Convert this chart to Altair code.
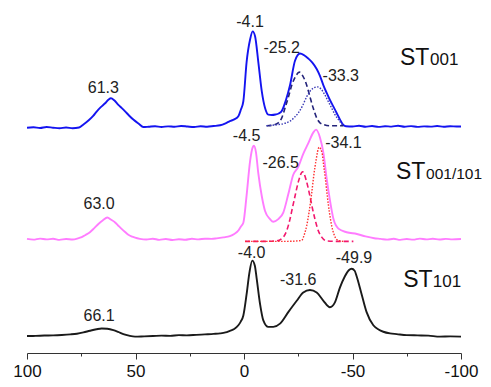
import altair as alt
import pandas as pd

# ---------------- data (ppm, intensity above each trace's own baseline) ----------------
st001_ppm = [100, 97, 94, 91, 88, 85, 82, 79, 76, 74, 71.7, 69.5, 67.9, 66, 64, 62.5, 61.3, 59.8,
             57.9, 56.3, 54.8, 53, 51, 48.5, 46.4, 44, 41, 38, 35, 32, 29, 26, 23, 20, 17, 14, 11,
             8.5, 6.5, 4.5, 2.6, 1.5, 0.3, -1.2, -2.8, -4.0, -5.1, -6.6, -8.2, -9.7, -11.2, -12.8,
             -14.5, -16, -17.4, -19.3, -21.2, -23.5, -25.8, -27.7, -29.6, -31.5, -33.5, -35, -36.6,
             -38.1, -39.6, -41.2, -42.7, -44.2, -45.8, -47, -50, -53, -56, -59, -62, -65, -68, -71,
             -74, -77, -80, -83, -86, -89, -92, -95, -98, -100]
st001_int = [-0.5, 0, -0.8, 0.2, -0.5, -1.1, -0.3, -1.0, -0.3, 2.8, 6.8, 11.5, 16, 20.5, 24.5, 28,
             29.5, 27.5, 22.8, 19.5, 16.2, 12, 7.8, 3.5, 0.2, 0.5, 1, 0.2, 0.9, 0.5, 1.3, 0.7, 0.2,
             1, 0.5, 1.2, 2, 4, 6.2, 8, 11.2, 17.5, 26.5, 66.5, 89.5, 97.8, 92.8, 66.5, 36.5, 19.5,
             12.8, 12.5, 13, 14, 16.5, 27.5, 42.8, 67.8, 75.2, 73.5, 70.2, 66, 59.5, 52.5, 42.8, 35,
             27.8, 21, 14.5, 8, 2.2, 1, 0.7, 1.5, 0.5, 1.2, 0.3, 1, 0.6, 1.5, 0.5, 1.1, 0.3, 0.9,
             0.6, 1.2, 0.5, 1, 0.7, 0.8]

st001_fit1_ppm = [-10.4, -13, -15.8, -17.5, -18.9, -20.5, -22, -23.8, -25.5, -27.2, -28.9, -30.4,
                  -31.9, -33.5, -35, -37, -39.6, -45.8]
st001_fit1_int = [1.5, 2, 4.5, 10, 19.5, 31, 42.8, 52, 56.2, 52, 42.8, 31, 19.5, 9.5, 4.5, 2.5,
                  1.5, 1.5]

st001_fit2_ppm = [-10.4, -15, -18, -21.2, -23, -25, -27, -28.9, -30.5, -32, -33.8, -35.5, -37.3,
                  -39, -40.4, -42, -43.5, -44.8, -45.8]
st001_fit2_int = [1.5, 2.5, 3.5, 6.2, 9.5, 14.5, 22, 31.2, 37, 40, 41.2, 39, 32.8, 25.5, 19.5,
                  12.5, 7.8, 4, 1.5]

mix_ppm = [100, 97, 94, 91, 88, 85, 82, 79, 76.5, 74.8, 73, 71, 69, 67.1, 65, 63, 61.2, 59.4, 58,
           56.4, 54.8, 53.3, 51.5, 50.2, 48, 45, 42, 39, 36, 33, 30, 27, 24, 21, 18, 15, 12.6, 9.5,
           6.5, 4.5, 2.6, 1.5, 0.3, -1.2, -2.8, -4.0, -4.6, -5.5, -6.6, -8.2, -9.7, -12, -13.5,
           -15.8, -18.1, -20.4, -22.7, -25, -27.3, -29.6, -31.9, -33.2, -35, -36.6, -38.1, -39.6,
           -41.2, -43.5, -47.3, -52, -56, -60, -63, -66, -69, -72, -75, -78, -81, -84, -87, -90,
           -93, -96, -100]
mix_int = [0.5, -0.3, 0.8, 0, 0.6, -0.5, 0.4, -0.2, 1, 2.3, 4.5, 7.3, 11.5, 15.7, 19.5, 22.3, 20,
           17.3, 14.2, 10.7, 7.5, 4.7, 2.8, 1.7, 0.5, -0.2, 0.7, -0.5, 0.4, -0.6, 0.1, -0.4, 0.6,
           0, 0.7, 0.5, 1, 2, 3.3, 5.5, 9, 13, 17, 45, 80, 94, 95.7, 89, 67.3, 44, 29, 20.7, 18,
           20.7, 27.3, 46, 66, 74, 87.3, 98, 109, 112, 104, 88, 62, 40, 21, 11, 7.3, 5.5, 3, 1.2,
           0.5, -0.3, 0.6, -0.5, 0.4, -0.3, 0.8, 0, 0.6, -0.2, 0.5, 0, 0.4]

mix_fit1_ppm = [-0.5, -10, -15, -18.1, -19.7, -21.2, -22.3, -23.5, -25.2, -27, -28.7, -30.4, -31.5,
                -32.7, -34.2, -35.8, -38, -42, -50.4]
mix_fit1_int = [-2, -2, -1.5, 2.3, 9, 20.7, 32, 44, 60, 69, 60, 44, 32, 20.7, 9, 2.3, -1.5, -2, -2]

mix_fit2_ppm = [-0.5, -20, -25, -26.6, -27.8, -28.9, -30, -31.2, -32.2, -33.2, -34.6, -36, -36.6,
                -37.5, -38.4, -39.4, -40.4, -41.5, -42.7, -44, -45.8]
mix_fit2_int = [-2, -2, -1.5, -1, 5, 14, 28, 47.3, 66, 80.7, 94, 88, 77.3, 62, 44, 27, 14, 5, 0,
                -1.5, -2]

st101_ppm = [100, 96, 92, 88, 84, 80, 77, 74, 71, 68, 65.6, 63, 60.2, 58, 55.6, 53, 50.2, 46, 42,
             38, 34, 30, 26.4, 22, 18, 14, 11, 8.5, 6.5, 4.5, 2.6, 1.5, 0.3, -1.2, -2.5, -3.8, -5,
             -5.8, -7.4, -8.9, -11.2, -13.5, -16.6, -20.4, -24.3, -27.3, -30.4, -33.5, -36.6,
             -39.6, -41.9, -44.2, -46.5, -48.3, -49.6, -51, -51.9, -54.2, -56.5, -59.6, -62,
             -64.2, -67.3, -70.4, -75, -80, -85, -90.3, -95, -100]
st101_int = [-0.2, 0, 0.3, 0.5, 0.9, 1.5, 2.2, 3.5, 5.2, 6.7, 7.5, 7.2, 5.8, 4, 1.8, 0.2, -0.8,
             -0.5, -0.2, 0.2, 0, 0.7, 0.5, 1, 1.5, 2, 2.5, 3.5, 5.2, 7, 10.8, 14.5, 20.8, 42.5, 64.5,
             76.8, 71.5, 59.2, 32.5, 15.8, 9.2, 9.2, 12.5, 24.2, 35.8, 44.2, 46.8, 44.2, 35.8, 29.2,
             34.2, 49.2, 60.8, 67, 68.5, 66.5, 60.8, 42.5, 24.2, 10.8, 6.5, 4.2, 2.5, 1.8, 0.8, 0.5,
             0.2, -0.8, -0.5, -0.8]

# vertical offset of each trace (stacking)
offset_st001 = 230.5
offset_mix = 116.0
offset_st101 = 17.5

# peak labels
peak_text = ["61.3", "-4.1", "-25.2", "-33.3", "63.0", "-4.5", "-26.5", "-34.1",
             "-4.0", "-31.6", "-49.9", "66.1"]
peak_ppm = [64.8, -2.8, -17.4, -44.6, 66.8, -1.2, -16.9, -45.8, -3.5, -25.0, -50.7, 66.8]
peak_y = [270.7, 338.3, 311.7, 282.7, 151.7, 221.7, 194.3, 214.3, 102.3, 75.0, 96.7, 37.3]

# sample names ("ST" + smaller suffix)
name_main = ["ST", "ST", "ST"]
name_main_ppm = [-71.9, -70.0, -73.4]
name_sub = ["001", "001/101", "101"]
name_sub_ppm = [-85.7, -83.9, -87.0]
name_y = [294.3, 177.3, 67.3]

tick_values = [100, 75, 50, 25, 0, -25, -50, -75, -100]

# ---------------- chart ----------------
FONT = "Liberation Sans"

xenc = alt.X(
    "ppm:Q",
    scale=alt.Scale(domain=[-100, 100], reverse=True, nice=False, zero=False),
    axis=alt.Axis(
        title=None,
        values=tick_values,
        grid=False,
        domainColor="#333333",
        domainWidth=1,
        tickColor="#333333",
        tickWidth=1,
        tickSize={"condition": {"test": "datum.value % 50 === 0", "value": 6}, "value": 3},
        labelExpr="datum.value % 50 === 0 ? '' + datum.value : ''",
        labelFont=FONT,
        labelFontSize=17,
        labelColor="#111111",
        labelPadding=4,
        labelFlush=False,
        labelOverlap=False,
    ),
)
yenc = alt.Y("y:Q", scale=alt.Scale(domain=[0, 352.2], nice=False, zero=False), axis=None)


def frame(ppm, inten, off):
    return pd.DataFrame({"ppm": ppm, "y": [v + off for v in inten]})


def line(df, color, width=1.9, dash=None):
    kw = dict(color=color, strokeWidth=width, interpolate="monotone")
    if dash is not None:
        kw["strokeDash"] = dash
    return alt.Chart(df).mark_line(**kw).encode(x=xenc, y=yenc)


layers = [
    line(frame(st001_ppm, st001_int, offset_st001), "#1414f0"),
    line(frame(st001_fit1_ppm, st001_fit1_int, offset_st001), "#23237a", 1.6, [5, 3]),
    line(frame(st001_fit2_ppm, st001_fit2_int, offset_st001), "#3a3ab5", 1.4, [1.5, 1.5]),
    line(frame(mix_ppm, mix_int, offset_mix), "#ff7cff"),
    line(frame(mix_fit1_ppm, mix_fit1_int, offset_mix), "#f2186e", 1.6, [5, 3]),
    line(frame(mix_fit2_ppm, mix_fit2_int, offset_mix), "#ff3030", 1.4, [1.5, 1.5]),
    line(frame(st101_ppm, st101_int, offset_st101), "#1a1a1a"),
]

peaks_df = pd.DataFrame({"ppm": peak_ppm, "y": peak_y, "t": peak_text})
layers.append(
    alt.Chart(peaks_df)
    .mark_text(font=FONT, fontSize=16, color="#222222", align="center", baseline="middle")
    .encode(x=xenc, y=yenc, text="t:N")
)

main_df = pd.DataFrame({"ppm": name_main_ppm, "y": name_y, "t": name_main})
layers.append(
    alt.Chart(main_df)
    .mark_text(font=FONT, fontSize=23, color="#111111", align="left", baseline="alphabetic")
    .encode(x=xenc, y=yenc, text="t:N")
)
sub_df = pd.DataFrame({"ppm": name_sub_ppm, "y": name_y, "t": name_sub})
layers.append(
    alt.Chart(sub_df)
    .mark_text(font=FONT, color="#111111", align="left", baseline="alphabetic")
    .encode(
        x=xenc, y=yenc, text="t:N",
        size=alt.condition("datum.t == '001/101'", alt.value(15.5), alt.value(17)),
    )
)

chart = (
    alt.layer(*layers)
    .properties(
        width=434,
        height=345,
        autosize=alt.AutoSizeParams(type="none"),
        padding={"left": 19, "top": 0, "right": 22, "bottom": 26},
        background="white",
    )
    .configure_view(strokeWidth=0)
)

chart.save("out.html", embed_options={"renderer": "svg", "actions": False})
